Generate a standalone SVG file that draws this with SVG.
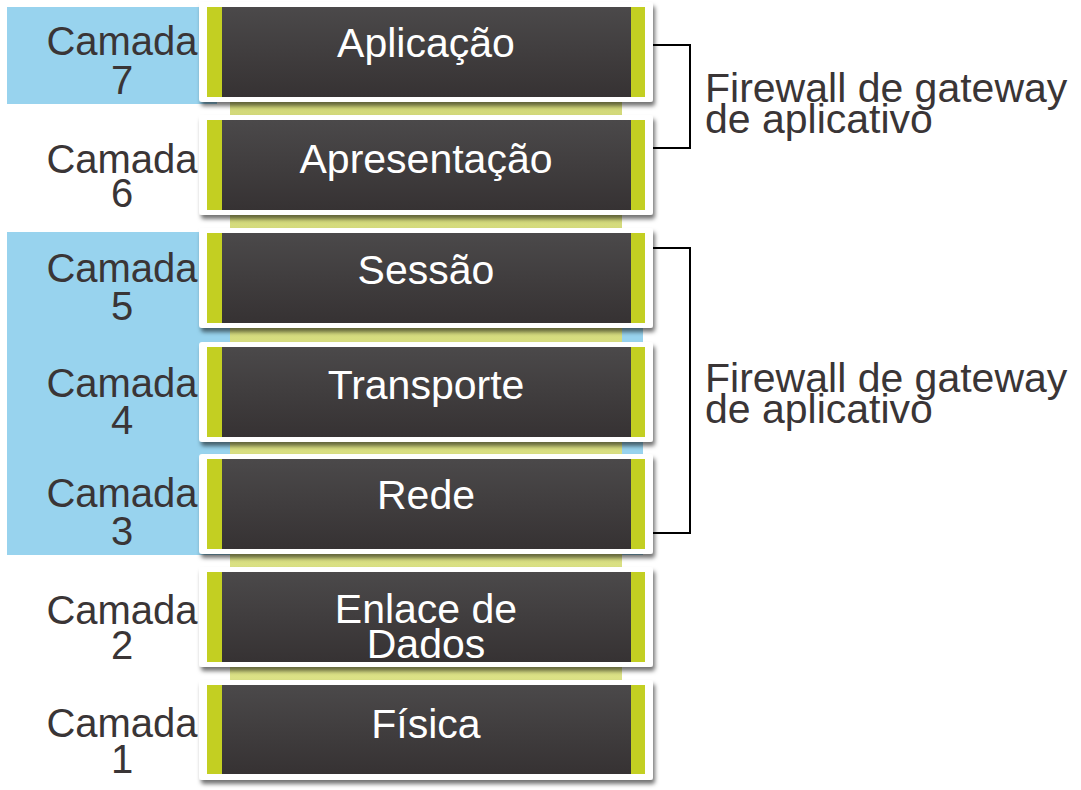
<svg xmlns="http://www.w3.org/2000/svg" width="1081" height="790" viewBox="0 0 1081 790">
<defs>
<linearGradient id="dark" x1="0" y1="0" x2="0" y2="1">
<stop offset="0" stop-color="#4b494a"/>
<stop offset="1" stop-color="#363233"/>
</linearGradient>
<linearGradient id="band" x1="0" y1="0" x2="0" y2="1">
<stop offset="0" stop-color="#d3d97a"/>
<stop offset="1" stop-color="#dde388"/>
</linearGradient>
<filter id="sh" x="-5%" y="-10%" width="112%" height="130%">
<feDropShadow dx="2" dy="4" stdDeviation="2" flood-color="#000" flood-opacity="0.55"/>
</filter>
</defs>
<style>
.frame{fill:#ffffff;filter:url(#sh)}
.body{fill:url(#dark)}
.stripe{fill:#c3cf22}
.lbl{font-family:"Liberation Sans",Arial,sans-serif;font-size:41px;fill:#ffffff;text-anchor:middle}
.cam{font-family:"Liberation Sans",Arial,sans-serif;font-size:40px;fill:#3a3536;text-anchor:middle}
.fw{font-family:"Liberation Sans",Arial,sans-serif;font-size:41px;fill:#3a3536}
.br{fill:none;stroke:#000;stroke-width:2}
</style>
<rect width="1081" height="790" fill="#ffffff"/>
<rect x="7" y="7" width="210" height="97" fill="#98d3ee"/>
<rect x="7" y="232" width="636" height="323" fill="#98d3ee"/>
<rect x="230" y="100" width="392" height="678" fill="url(#band)"/>

<g id="layer7">
<rect class="frame" x="199" y="2" width="454" height="100" rx="3"/>
<rect class="body" x="207" y="7" width="438" height="90"/>
<rect class="stripe" x="207" y="7" width="15" height="90"/>
<rect class="stripe" x="631" y="7" width="14" height="90"/>
<text class="lbl" x="426" y="57">Aplicação</text>
<text class="cam" x="122" y="55">Camada</text>
<text class="cam" x="122" y="94">7</text>
</g>
<g id="layer6">
<rect class="frame" x="199" y="115" width="454" height="100" rx="3"/>
<rect class="body" x="207" y="120" width="438" height="90"/>
<rect class="stripe" x="207" y="120" width="15" height="90"/>
<rect class="stripe" x="631" y="120" width="14" height="90"/>
<text class="lbl" x="426" y="173">Apresentação</text>
<text class="cam" x="122" y="173">Camada</text>
<text class="cam" x="122" y="207">6</text>
</g>
<g id="layer5">
<rect class="frame" x="199" y="228" width="454" height="100" rx="3"/>
<rect class="body" x="207" y="233" width="438" height="90"/>
<rect class="stripe" x="207" y="233" width="15" height="90"/>
<rect class="stripe" x="631" y="233" width="14" height="90"/>
<text class="lbl" x="426" y="284">Sessão</text>
<text class="cam" x="122" y="282">Camada</text>
<text class="cam" x="122" y="320">5</text>
</g>
<g id="layer4">
<rect class="frame" x="199" y="342" width="454" height="100" rx="3"/>
<rect class="body" x="207" y="347" width="438" height="90"/>
<rect class="stripe" x="207" y="347" width="15" height="90"/>
<rect class="stripe" x="631" y="347" width="14" height="90"/>
<text class="lbl" x="426" y="399">Transporte</text>
<text class="cam" x="122" y="397">Camada</text>
<text class="cam" x="122" y="434">4</text>
</g>
<g id="layer3">
<rect class="frame" x="199" y="454" width="454" height="100" rx="3"/>
<rect class="body" x="207" y="459" width="438" height="90"/>
<rect class="stripe" x="207" y="459" width="15" height="90"/>
<rect class="stripe" x="631" y="459" width="14" height="90"/>
<text class="lbl" x="426" y="509">Rede</text>
<text class="cam" x="122" y="507">Camada</text>
<text class="cam" x="122" y="545">3</text>
</g>
<g id="layer2">
<rect class="frame" x="199" y="567" width="454" height="100" rx="3"/>
<rect class="body" x="207" y="572" width="438" height="90"/>
<rect class="stripe" x="207" y="572" width="15" height="90"/>
<rect class="stripe" x="631" y="572" width="14" height="90"/>
<text class="lbl" x="426" y="623">Enlace de</text>
<text class="lbl" x="426" y="658">Dados</text>
<text class="cam" x="122" y="624">Camada</text>
<text class="cam" x="122" y="659">2</text>
</g>
<g id="layer1">
<rect class="frame" x="199" y="680" width="454" height="100" rx="3"/>
<rect class="body" x="207" y="685" width="438" height="89"/>
<rect class="stripe" x="207" y="685" width="15" height="89"/>
<rect class="stripe" x="631" y="685" width="14" height="89"/>
<text class="lbl" x="426" y="738">Física</text>
<text class="cam" x="122" y="737">Camada</text>
<text class="cam" x="122" y="773">1</text>
</g>

<g id="connectors">
<polyline class="br" points="653,45 690,45 690,148 653,148"/>
<polyline class="br" points="653,248 690,248 690,533 653,533"/>
</g>
<g id="fw-top">
<text class="fw" x="705" y="102">Firewall de gateway</text>
<text class="fw" x="705" y="133">de aplicativo</text>
</g>
<g id="fw-bottom">
<text class="fw" x="705" y="392">Firewall de gateway</text>
<text class="fw" x="705" y="423">de aplicativo</text>
</g>
</svg>
